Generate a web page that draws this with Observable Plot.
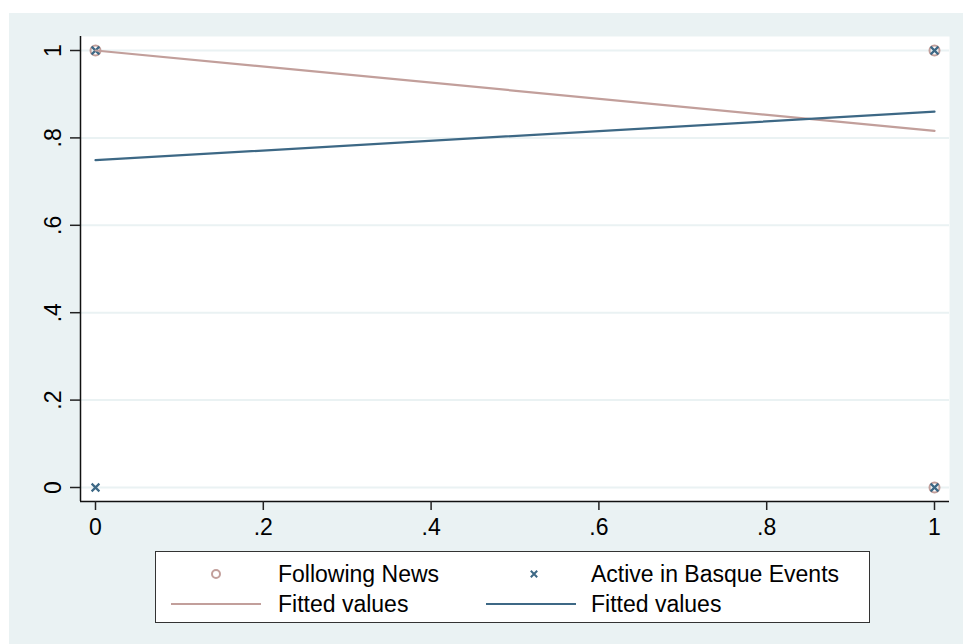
<!DOCTYPE html>
<html><head><meta charset="utf-8">
<script src="https://cdn.jsdelivr.net/npm/d3@7"></script>
<script src="https://cdn.jsdelivr.net/npm/@observablehq/plot@0.6"></script>
<style>
body{margin:0;background:#fff;font-family:"Liberation Sans",Arial,sans-serif;}
#frame{position:absolute;left:9px;top:13px;width:954px;height:631px;background:#eaf2f3;}
#chart{position:absolute;left:0;top:0;}
#legend{position:absolute;left:146px;top:538px;width:713px;height:70px;background:#fff;border:1.5px solid #333;}
svg{overflow:visible;}
</style></head><body>
<div id="frame"><div id="chart"></div><div id="legend"></div></div>
<script>
// Data
const followX = [0, 1, 1];
const followY = [1, 1, 0];
const activeX = [0, 0, 1, 1];
const activeY = [1, 0, 1, 0];
const fitX = [0, 1];
const fitFollow = [1.0, 0.816];
const fitActive = [0.749, 0.860];
const xTicks = [0, 0.2, 0.4, 0.6, 0.8, 1];
const xTickLabels = ["0", ".2", ".4", ".6", ".8", "1"];
const yTicks = [0, 0.2, 0.4, 0.6, 0.8, 1];
const yTickLabels = ["0", ".2", ".4", ".6", ".8", "1"];
const seriesNames = ["Following News", "Active in Basque Events"];
const fitNames = ["Fitted values", "Fitted values"];
const colors = ["#c29f9b", "#3d6885"];

const followData = followX.map((x, i) => ({x, y: followY[i]}));
const activeData = activeX.map((x, i) => ({x, y: activeY[i]}));
const fitF = fitX.map((x, i) => ({x, y: fitFollow[i]}));
const fitA = fitX.map((x, i) => ({x, y: fitActive[i]}));

const xDomain = [-15/839, 1 + 15/839];
const yDomain = [-14/437, 1 + 14/437];

const chart = Plot.plot({
  width: 954, height: 540,
  marginLeft: 71, marginRight: 14, marginTop: 23, marginBottom: 52,
  style: {background: "transparent", fontFamily: "Liberation Sans, Arial, sans-serif", color: "#000"},
  x: {domain: xDomain, label: null},
  y: {domain: yDomain, label: null},
  marks: [
    Plot.frame({fill: "white", stroke: null}),
    Plot.gridY(yTicks, {stroke: "#eaf2f3", strokeOpacity: 1, strokeWidth: 2}),
    Plot.ruleX([xDomain[0]], {stroke: "#111", strokeWidth: 1.5}),
    Plot.ruleY([yDomain[0]], {stroke: "#111", strokeWidth: 1.5}),
    Plot.axisX(xTicks, {tickSize: 9, tickPadding: 8, fontSize: 23, stroke: "#222", strokeWidth: 1.5,
      tickFormat: d => xTickLabels[xTicks.indexOf(d)], fill: "#000"}),
    Plot.axisY(yTicks, {tickSize: 10, tickFormat: () => "", stroke: "#222", strokeWidth: 1.5}),
    Plot.text(yTicks, {frameAnchor: "left", y: d => d, text: d => yTickLabels[yTicks.indexOf(d)],
      dx: -20, rotate: -90, textAnchor: "middle", lineAnchor: "bottom", fontSize: 23, fill: "#000"}),
    Plot.dot(followData, {x: "x", y: "y", r: 5, stroke: colors[0], strokeWidth: 2, fill: "none"}),
    Plot.dot(activeData, {x: "x", y: "y", symbol: "times", r: 3.6, stroke: colors[1], strokeWidth: 2.2}),
    Plot.line(fitF, {x: "x", y: "y", stroke: colors[0], strokeWidth: 2.2}),
    Plot.line(fitA, {x: "x", y: "y", stroke: colors[1], strokeWidth: 2.2})
  ]
});
document.getElementById("chart").appendChild(chart);

// Legend
const lg = d3.select("#legend").append("svg").attr("width", 713).attr("height", 70)
  .style("font-family", "Liberation Sans, Arial, sans-serif").style("font-size", "23px");
lg.append("circle").attr("cx", 60).attr("cy", 22).attr("r", 4).attr("fill", "none")
  .attr("stroke", colors[0]).attr("stroke-width", 2);
lg.append("text").attr("x", 122).attr("y", 30).text(seriesNames[0]);
const s = 3.2;
lg.append("path").attr("d", `M${378-s},${22-s}L${378+s},${22+s}M${378-s},${22+s}L${378+s},${22-s}`)
  .attr("stroke", colors[1]).attr("stroke-width", 2);
lg.append("text").attr("x", 435).attr("y", 30).text(seriesNames[1]);
lg.append("line").attr("x1", 15).attr("x2", 105).attr("y1", 52).attr("y2", 52)
  .attr("stroke", colors[0]).attr("stroke-width", 2.2);
lg.append("text").attr("x", 122).attr("y", 60).text(fitNames[0]);
lg.append("line").attr("x1", 330).attr("x2", 420).attr("y1", 52).attr("y2", 52)
  .attr("stroke", colors[1]).attr("stroke-width", 2.2);
lg.append("text").attr("x", 435).attr("y", 60).text(fitNames[1]);
</script>
</body></html>
